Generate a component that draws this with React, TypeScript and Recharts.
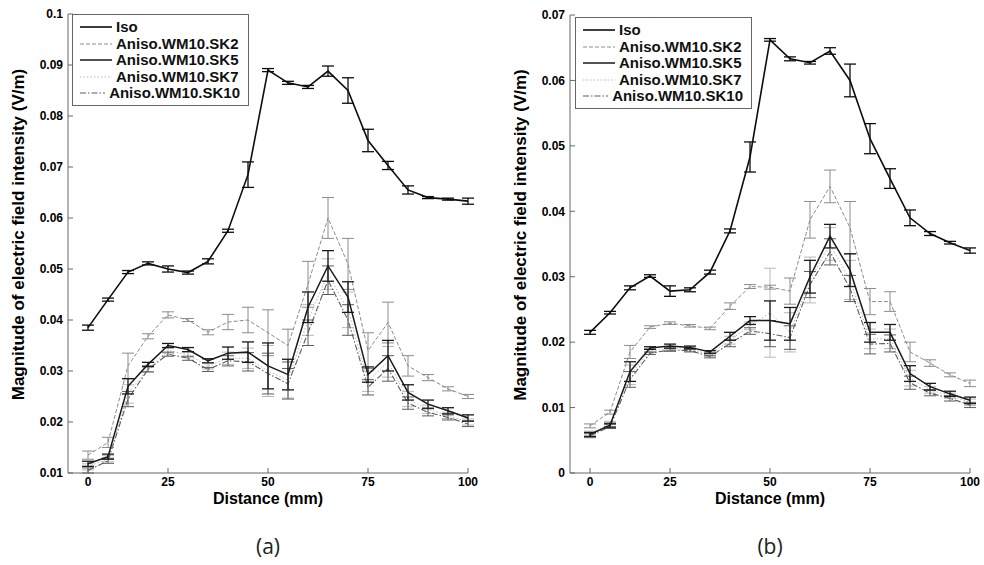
import { ErrorBar, Legend, Line, LineChart, XAxis, YAxis } from "recharts";

// distance (mm) at each measuring point; plotted equally spaced
const distances = ["0", "6.25", "12.5", "18.75", "25", "30", "35", "40", "45", "50", "55", "60", "65", "70", "75", "80", "85", "90", "95", "100"];
const xTicks = [0, 4, 9, 14, 19];

const seriesNames = ["Iso", "Aniso.WM10.SK2", "Aniso.WM10.SK5", "Aniso.WM10.SK7", "Aniso.WM10.SK10"];

// panel (a)
const isoA = [0.0385, 0.044, 0.0494, 0.0511, 0.05, 0.0493, 0.0515, 0.0575, 0.0685, 0.089, 0.0865, 0.0857, 0.0888, 0.085, 0.0752, 0.0703, 0.0655, 0.064, 0.0637, 0.0633];
const isoAErr = [0.0005, 0.0003, 0.0003, 0.0003, 0.0006, 0.0003, 0.0005, 0.0003, 0.0025, 0.0003, 0.0003, 0.0003, 0.001, 0.0025, 0.0022, 0.0008, 0.0008, 0.0002, 0.0002, 0.0006];
const sk2A = [0.0135, 0.016, 0.031, 0.0368, 0.041, 0.04, 0.0376, 0.0396, 0.04, 0.0375, 0.035, 0.047, 0.06, 0.051, 0.034, 0.0395, 0.031, 0.0287, 0.0265, 0.025];
const sk2AErr = [0.0008, 0.001, 0.0025, 0.0005, 0.0006, 0.0003, 0.0005, 0.0015, 0.0025, 0.0045, 0.0032, 0.0045, 0.004, 0.005, 0.0035, 0.004, 0.002, 0.0006, 0.0004, 0.0004];
const sk5A = [0.0118, 0.0132, 0.027, 0.0313, 0.035, 0.0342, 0.032, 0.0335, 0.0337, 0.031, 0.0293, 0.0425, 0.0506, 0.0445, 0.0293, 0.033, 0.0258, 0.0235, 0.0222, 0.0208];
const sk5AErr = [0.0005, 0.0005, 0.0015, 0.0004, 0.0004, 0.0004, 0.0004, 0.0012, 0.002, 0.0045, 0.003, 0.003, 0.003, 0.003, 0.0015, 0.003, 0.0015, 0.0008, 0.0006, 0.0006];
const sk7A = [0.0112, 0.0128, 0.0255, 0.0305, 0.034, 0.0332, 0.031, 0.0325, 0.0325, 0.03, 0.0282, 0.04, 0.049, 0.042, 0.028, 0.0318, 0.0245, 0.0225, 0.0213, 0.02];
const sk7AErr = [0.0006, 0.0006, 0.0018, 0.0006, 0.0005, 0.0005, 0.0006, 0.0012, 0.002, 0.005, 0.0035, 0.003, 0.003, 0.0035, 0.002, 0.003, 0.0015, 0.0008, 0.0006, 0.0006];
const sk10A = [0.0105, 0.0124, 0.0245, 0.0303, 0.0333, 0.0325, 0.0303, 0.032, 0.0318, 0.0295, 0.0275, 0.0375, 0.0478, 0.04, 0.0268, 0.0305, 0.0237, 0.0219, 0.0209, 0.0196];
const sk10AErr = [0.0005, 0.0005, 0.0015, 0.0005, 0.0004, 0.0004, 0.0004, 0.001, 0.0018, 0.004, 0.003, 0.0025, 0.0028, 0.003, 0.0015, 0.0025, 0.0012, 0.0007, 0.0005, 0.0005];
const yTicksA = [0.01, 0.02, 0.03, 0.04, 0.05, 0.06, 0.07, 0.08, 0.09, 0.1];

// panel (b)
const isoB = [0.0215, 0.0245, 0.0283, 0.0301, 0.0278, 0.028, 0.0307, 0.037, 0.0483, 0.0662, 0.0633, 0.0627, 0.0645, 0.06, 0.0511, 0.045, 0.039, 0.0366, 0.0352, 0.034];
const isoBErr = [0.0003, 0.0002, 0.0003, 0.0002, 0.0008, 0.0003, 0.0003, 0.0003, 0.0023, 0.0002, 0.0003, 0.0002, 0.0005, 0.0025, 0.0023, 0.0015, 0.0012, 0.0003, 0.0002, 0.0004];
const sk2B = [0.0072, 0.0093, 0.0185, 0.0223, 0.0229, 0.0225, 0.0221, 0.0255, 0.0285, 0.0284, 0.0278, 0.0387, 0.0438, 0.0375, 0.0262, 0.0262, 0.0185, 0.0168, 0.015, 0.0137];
const sk2BErr = [0.0003, 0.0003, 0.001, 0.0002, 0.0002, 0.0002, 0.0002, 0.0005, 0.0003, 0.0003, 0.002, 0.0028, 0.0025, 0.004, 0.002, 0.0015, 0.0015, 0.0005, 0.0003, 0.0005];
const sk5B = [0.0059, 0.0073, 0.0155, 0.0191, 0.0194, 0.0192, 0.0185, 0.0209, 0.0233, 0.0233, 0.0228, 0.03, 0.0362, 0.031, 0.0215, 0.0215, 0.0152, 0.0132, 0.0121, 0.0111];
const sk5BErr = [0.0003, 0.0003, 0.0015, 0.0002, 0.0003, 0.0002, 0.0002, 0.0006, 0.0006, 0.003, 0.0025, 0.0025, 0.0018, 0.0025, 0.0015, 0.0012, 0.0012, 0.0005, 0.0004, 0.0005];
const sk7B = [0.006, 0.0075, 0.015, 0.0187, 0.019, 0.0189, 0.0181, 0.0203, 0.0225, 0.0245, 0.0215, 0.0295, 0.035, 0.0295, 0.0205, 0.0205, 0.0145, 0.0127, 0.0118, 0.0108];
const sk7BErr = [0.0004, 0.0004, 0.0015, 0.0003, 0.0003, 0.0003, 0.0003, 0.0006, 0.0006, 0.0068, 0.003, 0.0035, 0.0025, 0.003, 0.0015, 0.0015, 0.0012, 0.0005, 0.0004, 0.0005];
const sk10B = [0.0057, 0.0071, 0.0143, 0.0183, 0.0188, 0.0187, 0.0178, 0.0198, 0.0217, 0.0213, 0.0207, 0.0288, 0.0338, 0.0282, 0.0197, 0.0198, 0.0138, 0.0122, 0.0114, 0.0104];
const sk10BErr = [0.0003, 0.0003, 0.0012, 0.0002, 0.0002, 0.0002, 0.0002, 0.0005, 0.0005, 0.002, 0.0018, 0.002, 0.002, 0.002, 0.0015, 0.0013, 0.001, 0.0004, 0.0004, 0.0004];
const yTicksB = [0, 0.01, 0.02, 0.03, 0.04, 0.05, 0.06, 0.07];

const FONT = '"Liberation Sans", Arial, Helvetica, sans-serif';

// line styles, in legend order
const styles = [
  { key: "iso", stroke: "#0d0d0d", width: 1.6, dash: undefined as string | undefined },
  { key: "sk2", stroke: "#8c8c8c", width: 1, dash: "4 2" },
  { key: "sk5", stroke: "#1a1a1a", width: 1.5, dash: undefined },
  { key: "sk7", stroke: "#b8b8b8", width: 1, dash: "1.5 2" },
  { key: "sk10", stroke: "#5c5c5c", width: 1.1, dash: "6 2 1.5 2" },
];
const drawOrder = [3, 4, 1, 2, 0];

function buildRows(series: number[][], errs: number[][]) {
  return distances.map((_, i) => {
    const row: Record<string, number> = { i };
    styles.forEach((s, k) => {
      row[s.key] = series[k][i];
      row[s.key + "Err"] = errs[k][i];
    });
    return row;
  });
}

const rowsA = buildRows([isoA, sk2A, sk5A, sk7A, sk10A], [isoAErr, sk2AErr, sk5AErr, sk7AErr, sk10AErr]);
const rowsB = buildRows([isoB, sk2B, sk5B, sk7B, sk10B], [isoBErr, sk2BErr, sk5BErr, sk7BErr, sk10BErr]);

function LegendBox() {
  return (
    <div
      style={{
        border: "1px solid #666",
        background: "#fff",
        padding: "4px 8px 3px 7px",
        fontFamily: FONT,
        fontSize: 15,
        fontWeight: "bold",
        color: "#111",
        width: 160,
      }}
    >
      {styles.map((s, k) => (
        <div key={s.key} style={{ display: "flex", alignItems: "center", height: 16.5 }}>
          <svg width={32} height={10} style={{ marginRight: 4 }}>
            <line x1={0} y1={5} x2={32} y2={5} stroke={s.stroke} strokeWidth={s.width} strokeDasharray={s.dash} />
          </svg>
          <span style={{ lineHeight: "16px", whiteSpace: "nowrap" }}>{seriesNames[k]}</span>
        </div>
      ))}
    </div>
  );
}

const fmtY = (v: number) => String(Number(v.toFixed(2)));

function Panel({
  rows,
  yTicks,
  pageLeft,
  axisWidth,
  marginTop,
  marginRight,
  legendLeft,
  legendTop,
  caption,
}: {
  rows: Record<string, number>[];
  yTicks: number[];
  pageLeft: number;
  axisWidth: number;
  marginTop: number;
  marginRight: number;
  legendLeft: number;
  legendTop: number;
  caption: string;
}) {
  const yDomain = [yTicks[0], yTicks[yTicks.length - 1]];
  const tickStyle = { fontSize: 12, fontWeight: "bold", fill: "#000", fontFamily: FONT };
  return (
    <div style={{ position: "absolute", left: pageLeft, top: 0, width: 490, height: 565 }}>
      <LineChart width={490} height={565} data={rows} margin={{ top: marginTop, right: marginRight, bottom: 62, left: 0 }}>
        <XAxis
          dataKey="i"
          type="number"
          domain={[-1, 19]}
          ticks={xTicks}
          allowDataOverflow
          tickFormatter={(v) => distances[v]}
          height={30}
          stroke="#666"
          tickSize={-5}
          tickMargin={9}
          tick={tickStyle}
          label={{
            content: (p: any) => {
              const vb = p.viewBox;
              return (
                <text x={vb.x + vb.width / 2} y={vb.y + 25} textAnchor="middle" dominantBaseline="central" fontFamily={FONT} fontSize={16} fontWeight="bold" fill="#000">
                  Distance (mm)
                </text>
              );
            },
          }}
        />
        <XAxis xAxisId="top" orientation="top" dataKey="i" type="number" domain={[-1, 19]} ticks={xTicks} allowDataOverflow height={0} stroke="#666" tickSize={-5} tick={false} />
        <YAxis
          type="number"
          domain={yDomain}
          ticks={yTicks}
          allowDataOverflow
          width={axisWidth}
          stroke="#666"
          tickSize={-5}
          tickMargin={10}
          tick={tickStyle}
          tickFormatter={fmtY}
          label={{
            content: (p: any) => {
              const vb = p.viewBox;
              const cx = vb.x + axisWidth - 50;
              const cy = vb.y + vb.height / 2 - 9;
              return (
                <text x={cx} y={cy} transform={`rotate(-90 ${cx} ${cy})`} textAnchor="middle" dominantBaseline="central" fontFamily={FONT} fontSize={17} fontWeight="bold" fill="#000">
                  Magnitude of electric field intensity (V/m)
                </text>
              );
            },
          }}
        />
        <YAxis yAxisId="right" orientation="right" type="number" domain={yDomain} ticks={yTicks} allowDataOverflow width={0} stroke="#666" tickSize={-5} tick={false} />
        <Legend
          layout="vertical"
          align="center"
          verticalAlign="middle"
          wrapperStyle={{ left: legendLeft, top: legendTop }}
          content={() => <LegendBox />}
        />
        {drawOrder.map((k) => {
          const s = styles[k];
          return (
            <Line
              key={s.key}
              dataKey={s.key}
              name={seriesNames[k]}
              type="linear"
              stroke={s.stroke}
              strokeWidth={s.width}
              strokeDasharray={s.dash}
              dot={false}
              activeDot={false}
              isAnimationActive={false}
            >
              <ErrorBar dataKey={s.key + "Err"} direction="y" width={6} stroke={s.stroke} strokeWidth={k === 0 || k === 2 ? 1.3 : 1} />
            </Line>
          );
        })}
      </LineChart>
      <div
        style={{
          position: "absolute",
          left: axisWidth,
          width: 400,
          top: 532,
          textAlign: "center",
          fontFamily: '"Open Sans", sans-serif',
          fontSize: 21,
          color: "#222",
        }}
      >
        {caption}
      </div>
    </div>
  );
}

export default function App() {
  return (
    <div style={{ position: "absolute", left: 0, top: 0, width: 984, height: 565, background: "#fff" }}>
      <Panel rows={rowsA} yTicks={yTicksA} pageLeft={0} axisWidth={68} marginTop={14} marginRight={22} legendLeft={72} legendTop={14} caption="(a)" />
      <Panel rows={rowsB} yTicks={yTicksB} pageLeft={490} axisWidth={80} marginTop={15} marginRight={10} legendLeft={85} legendTop={17} caption="(b)" />
    </div>
  );
}
